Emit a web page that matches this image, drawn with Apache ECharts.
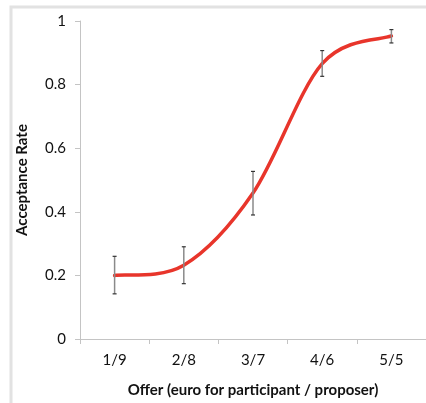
<!DOCTYPE html>
<html><head><meta charset="utf-8">
<script src="https://cdn.jsdelivr.net/npm/echarts@6/dist/echarts.min.js"></script>
<style>html,body{margin:0;padding:0;background:#fff}#c{width:426px;height:403px}</style>
</head><body><div id="c"></div>
<script>
const categories = ['1/9', '2/8', '3/7', '4/6', '5/5'];
const acceptance = [0.20, 0.232, 0.459, 0.866, 0.953];
const errLow = [0.142, 0.174, 0.39, 0.826, 0.931];
const errHigh = [0.26, 0.29, 0.527, 0.907, 0.973];
const yTicks = [0, 0.2, 0.4, 0.6, 0.8, 1];

const font = 'Lato';
const chart = echarts.init(document.getElementById('c'));
chart.setOption({
  animation: false,
  graphic: [{
    type: 'rect', shape: {x: 11, y: 7, width: 500, height: 500},
    style: {fill: 'none', stroke: '#e2e2e2', lineWidth: 3}, z: -1
  }],
  grid: {left: 80, top: 21, width: 350, height: 320},
  xAxis: {
    type: 'category', data: categories, boundaryGap: true,
    name: 'Offer (euro for participant / proposer)', nameLocation: 'middle', nameGap: 44,
    nameTextStyle: {fontFamily: font, fontWeight: 'bold', fontSize: 15, color: '#111'},
    axisLine: {lineStyle: {color: '#c4c4c4', width: 1}},
    axisTick: {show: true, length: 5, lineStyle: {color: '#c4c4c4'}},
    axisLabel: {fontFamily: font, fontSize: 15, color: '#111', margin: 14}
  },
  yAxis: {
    type: 'value', min: 0, max: 1, interval: 0.2,
    name: 'Acceptance Rate', nameLocation: 'middle', nameGap: 50, nameRotate: 90,
    nameTextStyle: {fontFamily: font, fontWeight: 'bold', fontSize: 15, color: '#111'},
    axisLine: {show: true, lineStyle: {color: '#c4c4c4', width: 1}},
    axisTick: {show: true, length: 5, lineStyle: {color: '#c4c4c4'}},
    splitLine: {show: false},
    axisLabel: {fontFamily: font, fontSize: 15, color: '#111', margin: 14,
      formatter: v => yTicks.includes(+v.toFixed(1)) ? String(+v.toFixed(1)) : ''}
  },
  series: [{
    type: 'custom', z: 2,
    data: [[0, acceptance[0]]],
    renderItem: (params, api) => {
      const p = acceptance.map((v, i) => api.coord([i, v]));
      let d = 'M' + p[0][0] + ' ' + p[0][1];
      for (let i = 0; i < p.length - 1; i++) {
        const p0 = p[Math.max(i - 1, 0)], p1 = p[i], p2 = p[i + 1], p3 = p[Math.min(i + 2, p.length - 1)];
        const c1 = [p1[0] + (p2[0] - p0[0]) / 6, p1[1] + (p2[1] - p0[1]) / 6];
        const c2 = [p2[0] - (p3[0] - p1[0]) / 6, p2[1] - (p3[1] - p1[1]) / 6];
        d += ' C' + c1.join(' ') + ' ' + c2.join(' ') + ' ' + p2.join(' ');
      }
      return {type: 'path', shape: {pathData: d},
        style: {fill: 'none', stroke: '#e8352b', lineWidth: 3.5, lineCap: 'round'}};
    }
  }, {
    type: 'custom', z: 3,
    data: categories.map((c, i) => [i, errLow[i], errHigh[i]]),
    renderItem: (params, api) => {
      const lo = api.coord([api.value(0), api.value(1)]);
      const hi = api.coord([api.value(0), api.value(2)]);
      const w = 2;
      return {type: 'group', children: [
        {type: 'line', shape: {x1: lo[0], y1: lo[1], x2: hi[0], y2: hi[1]}, style: {stroke: '#8a8a8a', lineWidth: 1.5}},
        {type: 'line', shape: {x1: lo[0]-w, y1: lo[1], x2: lo[0]+w, y2: lo[1]}, style: {stroke: '#333', lineWidth: 1.2}},
        {type: 'line', shape: {x1: hi[0]-w, y1: hi[1], x2: hi[0]+w, y2: hi[1]}, style: {stroke: '#333', lineWidth: 1.2}}
      ]};
    }
  }]
});
</script></body></html>
